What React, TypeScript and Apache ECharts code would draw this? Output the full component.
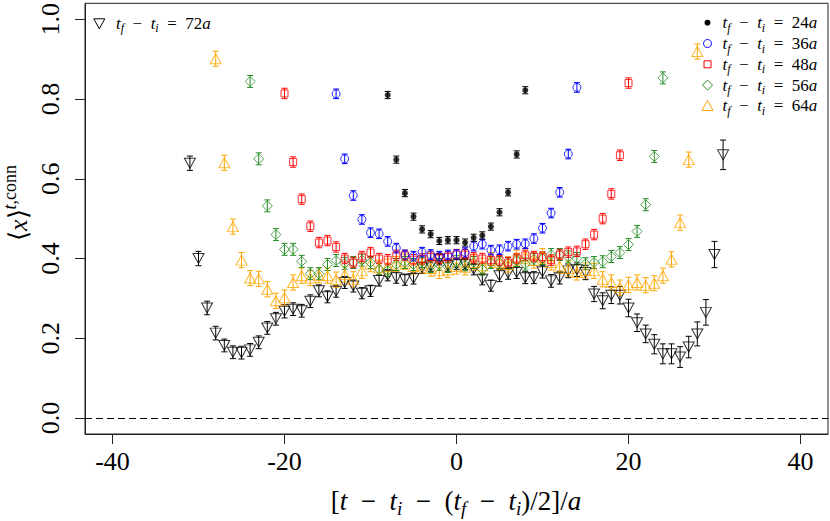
import React, { useEffect, useRef } from "react";
import * as echarts from "echarts";

// ---------- data ----------
const X_TICKS = [-40, -20, 0, 20, 40];
const Y_TICKS = [0, 0.2, 0.4, 0.6, 0.8, 1.0];

// t_f - t_i = 24a  (x = -8 .. 8)
const X24_START = -8;
const Y24 = [0.81, 0.648, 0.564, 0.505, 0.473, 0.461, 0.444, 0.446, 0.446, 0.44, 0.452, 0.458, 0.48, 0.516, 0.566, 0.661, 0.822];
const E24 = 0.009;

// t_f - t_i = 36a  (x = -14 .. 14)
const X36_START = -14;
const Y36 = [0.813, 0.65, 0.558, 0.498, 0.465, 0.462, 0.443, 0.426, 0.409, 0.406, 0.416, 0.41, 0.406, 0.409, 0.41, 0.415, 0.431, 0.436, 0.421, 0.422, 0.431, 0.436, 0.437, 0.45, 0.476, 0.514, 0.566, 0.662, 0.829];
const E36 = 0.012;

// t_f - t_i = 48a  (x = -20 .. 20)
const X48_START = -20;
const Y48 = [0.814, 0.642, 0.549, 0.481, 0.44, 0.445, 0.429, 0.4, 0.39, 0.405, 0.415, 0.4, 0.397, 0.408, 0.408, 0.397, 0.399, 0.404, 0.4, 0.404, 0.41, 0.41, 0.402, 0.4, 0.396, 0.395, 0.39, 0.4, 0.408, 0.405, 0.404, 0.396, 0.41, 0.416, 0.418, 0.436, 0.46, 0.5, 0.562, 0.659, 0.84];
const E48 = 0.013;

// t_f - t_i = 56a  (x = -24 .. 24)
const X56_START = -24;
const Y56 = [0.844, 0.65, 0.532, 0.46, 0.423, 0.423, 0.393, 0.362, 0.362, 0.385, 0.395, 0.388, 0.39, 0.396, 0.39, 0.373, 0.37, 0.385, 0.39, 0.385, 0.392, 0.38, 0.385, 0.38, 0.392, 0.384, 0.39, 0.373, 0.39, 0.39, 0.388, 0.395, 0.386, 0.398, 0.4, 0.41, 0.41, 0.404, 0.4, 0.387, 0.39, 0.392, 0.405, 0.415, 0.435, 0.468, 0.535, 0.656, 0.853];
const E56 = 0.015;

// t_f - t_i = 64a  (x = -28 .. 28)
const X64_START = -28;
const Y64 = [0.901, 0.64, 0.48, 0.396, 0.351, 0.349, 0.323, 0.294, 0.302, 0.34, 0.357, 0.351, 0.358, 0.357, 0.347, 0.36, 0.348, 0.369, 0.386, 0.377, 0.38, 0.386, 0.392, 0.38, 0.383, 0.375, 0.369, 0.371, 0.38, 0.378, 0.39, 0.382, 0.396, 0.39, 0.385, 0.402, 0.406, 0.395, 0.406, 0.39, 0.381, 0.375, 0.365, 0.37, 0.369, 0.348, 0.34, 0.327, 0.334, 0.34, 0.333, 0.338, 0.357, 0.398, 0.49, 0.648, 0.919];
const E64 = 0.019;

// t_f - t_i = 72a  (x = -31 .. 31)
const X72_START = -31;
const Y72 = [0.639, 0.4, 0.276, 0.213, 0.182, 0.165, 0.164, 0.171, 0.19, 0.226, 0.249, 0.268, 0.273, 0.269, 0.293, 0.319, 0.304, 0.318, 0.34, 0.331, 0.313, 0.319, 0.345, 0.358, 0.352, 0.347, 0.35, 0.377, 0.382, 0.398, 0.382, 0.386, 0.386, 0.373, 0.348, 0.332, 0.357, 0.363, 0.365, 0.352, 0.352, 0.367, 0.344, 0.352, 0.369, 0.372, 0.365, 0.311, 0.294, 0.308, 0.308, 0.276, 0.239, 0.211, 0.185, 0.161, 0.161, 0.153, 0.178, 0.211, 0.265, 0.41, 0.66];
const E72 = [0.018, 0.018, 0.017, 0.017, 0.016, 0.016, 0.016, 0.016, 0.016, 0.016, 0.016, 0.017, 0.016, 0.016, 0.016, 0.015, 0.015, 0.015, 0.015, 0.015, 0.014, 0.014, 0.014, 0.014, 0.014, 0.014, 0.014, 0.014, 0.014, 0.014, 0.014, 0.014, 0.014, 0.014, 0.014, 0.014, 0.015, 0.015, 0.015, 0.015, 0.015, 0.016, 0.016, 0.016, 0.017, 0.017, 0.018, 0.019, 0.02, 0.021, 0.022, 0.022, 0.022, 0.022, 0.024, 0.025, 0.025, 0.026, 0.027, 0.03, 0.032, 0.033, 0.037];

// ---------- styling ----------
const SERIF = "Liberation Serif";
const C_BLACK = "#000000";
const C_BLUE = "#0000ff";
const C_RED = "#ff0000";
const C_GREEN = "#228b22";
const C_ORANGE = "#ffa500";

type SeriesDef = {
  sep: string;
  start: number;
  y: number[];
  err: number | number[];
  color: string;
  symbol: string;
  size: number | number[];
  filled: boolean;
};

const SERIES: SeriesDef[] = [
  { sep: "72", start: X72_START, y: Y72, err: E72, color: C_BLACK, symbol: "path://M0,0L2,0L1,1.8Z", size: [11, 10], filled: false },
  { sep: "64", start: X64_START, y: Y64, err: E64, color: C_ORANGE, symbol: "triangle", size: [11, 10], filled: false },
  { sep: "56", start: X56_START, y: Y56, err: E56, color: C_GREEN, symbol: "diamond", size: 10, filled: false },
  { sep: "48", start: X48_START, y: Y48, err: E48, color: C_RED, symbol: "rect", size: 7, filled: false },
  { sep: "36", start: X36_START, y: Y36, err: E36, color: C_BLUE, symbol: "circle", size: 8, filled: false },
  { sep: "24", start: X24_START, y: Y24, err: E24, color: C_BLACK, symbol: "circle", size: 6, filled: true },
];

function seriesPoints(s: SeriesDef) {
  return s.y.map((v, i) => {
    const e = Array.isArray(s.err) ? s.err[i] : s.err;
    return [s.start + i, v, e];
  });
}

const legendRich = (fs: number) => ({
  r: { fontFamily: SERIF, fontSize: fs, lineHeight: fs + 5, fill: "#000", color: "#000" },
  i: { fontFamily: SERIF, fontStyle: "italic", fontSize: fs, lineHeight: fs + 5, fill: "#000", color: "#000" },
  s: { fontFamily: SERIF, fontStyle: "italic", fontSize: Math.round(fs * 0.68), lineHeight: Math.round(fs * 0.68), verticalAlign: "bottom", fill: "#000", color: "#000" },
});

const SP = "\u2002";
const legendText = (sep: string) => `{i|t}{s|f}{r|${SP}−${SP}}{i|t}{s|i}{r|${SP}=${SP}${sep}}{i|a}`;

export default function App() {
  const ref = useRef<HTMLDivElement>(null);
  useEffect(() => {
    if (!ref.current) return;
    const chart = echarts.init(ref.current, null, { renderer: "svg" });

    const series: any[] = [];
    SERIES.forEach((s) => {
      const pts = seriesPoints(s);
      series.push({
        type: "custom",
        name: s.sep + "err",
        data: pts,
        encode: { x: 0, y: 1 },
        z: 2,
        silent: true,
        renderItem: (_p: any, api: any) => {
          const x = api.value(0);
          const y = api.value(1);
          const e = api.value(2);
          const lo = api.coord([x, y - e]);
          const hi = api.coord([x, y + e]);
          const w = 3;
          const st = { stroke: s.color, lineWidth: 1 };
          return {
            type: "group",
            children: [
              { type: "line", shape: { x1: lo[0], y1: lo[1], x2: hi[0], y2: hi[1] }, style: st },
              { type: "line", shape: { x1: lo[0] - w, y1: lo[1], x2: lo[0] + w, y2: lo[1] }, style: st },
              { type: "line", shape: { x1: hi[0] - w, y1: hi[1], x2: hi[0] + w, y2: hi[1] }, style: st },
            ],
          };
        },
      });
      series.push({
        type: "scatter",
        name: s.sep,
        data: pts.map((p) => [p[0], p[1]]),
        symbol: s.symbol,
        symbolSize: s.size,
        z: 3,
        itemStyle: s.filled
          ? { color: s.color }
          : { color: "rgba(255,255,255,0)", borderColor: s.color, borderWidth: 1 },
      });
    });

    // dashed zero line
    series.push({
      type: "line",
      data: [],
      markLine: {
        silent: true,
        symbol: "none",
        label: { show: false },
        lineStyle: { color: "#000", width: 1, type: [7, 4] },
        data: [{ yAxis: 0 }],
      },
    });

    // legend graphics
    const legendX = 707.5;
    const textX = 722.5;
    const rowY0 = 22.7;
    const rowDy = 20.8;
    const graphics: any[] = [];
    const order = [SERIES[5], SERIES[4], SERIES[3], SERIES[2], SERIES[1]];
    order.forEach((s, k) => {
      const cy = rowY0 + k * rowDy;
      const cx = legendX;
      let g: any;
      if (s.sep === "24") g = { type: "circle", shape: { cx, cy, r: 3 }, style: { fill: s.color } };
      else if (s.sep === "36") g = { type: "circle", shape: { cx, cy, r: 4 }, style: { fill: "none", stroke: s.color, lineWidth: 1 } };
      else if (s.sep === "48") g = { type: "rect", shape: { x: cx - 3.5, y: cy - 3.5, width: 7, height: 7 }, style: { fill: "none", stroke: s.color, lineWidth: 1 } };
      else if (s.sep === "56") g = { type: "polygon", shape: { points: [[cx, cy - 5], [cx + 5, cy], [cx, cy + 5], [cx - 5, cy]] }, style: { fill: "none", stroke: s.color, lineWidth: 1 } };
      else g = { type: "polygon", shape: { points: [[cx, cy - 5.5], [cx + 5.5, cy + 4.5], [cx - 5.5, cy + 4.5]] }, style: { fill: "none", stroke: s.color, lineWidth: 1 } };
      graphics.push(g);
      graphics.push({
        type: "text",
        x: textX,
        y: cy,
        style: { text: legendText(s.sep), rich: legendRich(17), verticalAlign: "middle", align: "left", fill: "#000" },
      });
    });
    // top-left legend for 72a
    {
      const cx = 99.3;
      const cy = 23.3;
      graphics.push({ type: "polygon", shape: { points: [[cx - 5.5, cy - 4.5], [cx + 5.5, cy - 4.5], [cx, cy + 5.5]] }, style: { fill: "none", stroke: C_BLACK, lineWidth: 1 } });
      graphics.push({
        type: "text",
        x: 116,
        y: cy,
        style: { text: legendText("72"), rich: legendRich(17), verticalAlign: "middle", align: "left", fill: "#000" },
      });
    }
    // axis titles
    const titleRich = {
      r: { fontFamily: SERIF, fontSize: 27, lineHeight: 34, fill: "#000", color: "#000" },
      i: { fontFamily: SERIF, fontStyle: "italic", fontSize: 27, lineHeight: 34, fill: "#000", color: "#000" },
      s: { fontFamily: SERIF, fontStyle: "italic", fontSize: 19, lineHeight: 19, verticalAlign: "bottom", fill: "#000", color: "#000" },
    };
    graphics.push({
      type: "text",
      x: 456,
      y: 501,
      style: {
        text: `{r|[}{i|t}{r|${SP}−${SP}}{i|t}{s|i}{r|${SP}−${SP}(}{i|t}{s|f}{r|${SP}−${SP}}{i|t}{s|i}{r|)/2]/}{i|a}`,
        rich: titleRich,
        align: "center",
        verticalAlign: "middle",
        fill: "#000",
      },
    });
    const yRich = {
      r: { fontFamily: SERIF, fontSize: 26, lineHeight: 34, fill: "#000", color: "#000" },
      i: { fontFamily: SERIF, fontStyle: "italic", fontSize: 26, lineHeight: 34, fill: "#000", color: "#000" },
      p: { fontFamily: SERIF, fontSize: 18, lineHeight: 18, verticalAlign: "top", fill: "#000", color: "#000" },
      q: { fontFamily: SERIF, fontStyle: "italic", fontSize: 18, lineHeight: 18, verticalAlign: "top", fill: "#000", color: "#000" },
    };
    graphics.push({
      type: "text",
      x: 18,
      y: 203,
      rotation: Math.PI / 2,
      style: {
        text: `{r|⟨}{i|x}{r|⟩}{q|t}{p|,conn}`,
        rich: yRich,
        align: "center",
        verticalAlign: "middle",
        fill: "#000",
      },
    });

    chart.setOption({
      animation: false,
      backgroundColor: "#ffffff",
      grid: { left: 85, right: 2, top: 1, bottom: 87, show: true, borderColor: "#222", borderWidth: 1, backgroundColor: "transparent" },
      xAxis: {
        type: "value",
        min: -43.2,
        max: 43.2,
        axisLine: { show: true, onZero: false, lineStyle: { color: "#222", width: 1 } },
        axisTick: { show: true, length: 10, customValues: X_TICKS, lineStyle: { color: "#222" } },
        axisLabel: { customValues: X_TICKS, fontFamily: SERIF, fontSize: 26, color: "#000", margin: 14, formatter: (v: number) => String(v) },
        splitLine: { show: false },
      },
      yAxis: {
        type: "value",
        min: -0.04,
        max: 1.04,
        axisLine: { show: true, onZero: false, lineStyle: { color: "#222", width: 1 } },
        axisTick: { show: true, length: 10, customValues: Y_TICKS, lineStyle: { color: "#222" } },
        axisLabel: { customValues: Y_TICKS, rotate: 90, fontFamily: SERIF, fontSize: 26, color: "#000", margin: 22, formatter: (v: number) => v.toFixed(1) },
        splitLine: { show: false },
      },
      graphic: graphics,
      series,
    });
    return () => chart.dispose();
  }, []);
  return <div ref={ref} style={{ position: "fixed", left: 0, top: 0, width: 830, height: 521, background: "#fff" }} />;
}
